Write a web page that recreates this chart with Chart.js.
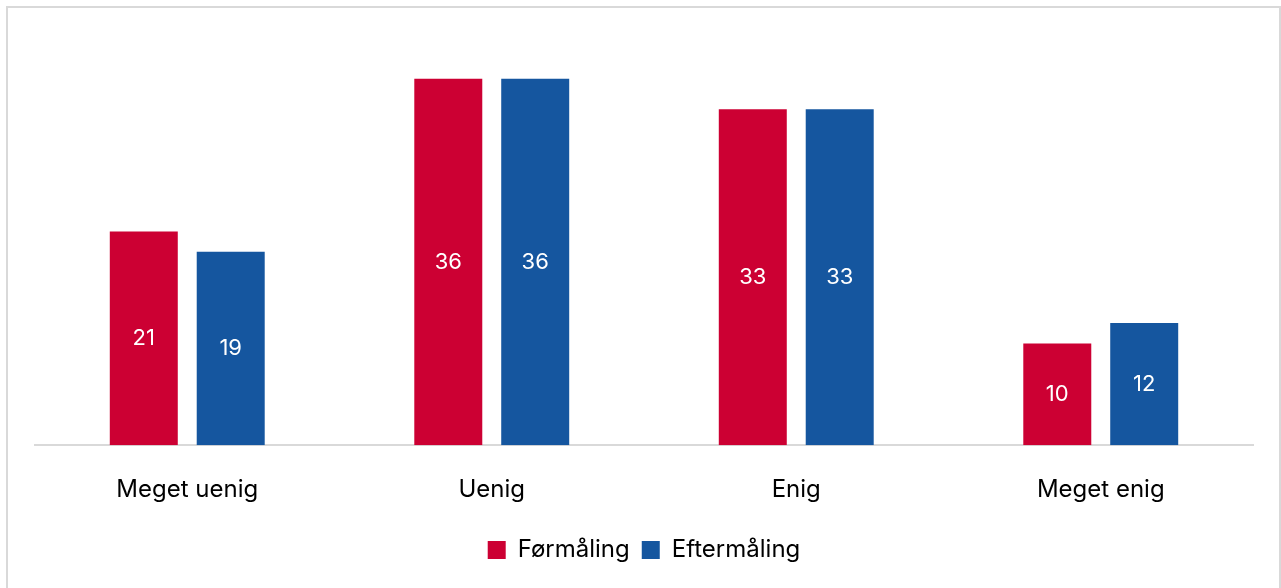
<!DOCTYPE html>
<html>
<head>
<meta charset="utf-8">
<script src="https://cdn.jsdelivr.net/npm/chart.js@4.4.1/dist/chart.umd.min.js"></script>
<style>
  html, body { margin: 0; padding: 0; background: #fff; }
  #ramme {
    position: absolute; left: 6px; top: 6px;
    width: 1271px; height: 590px;
    border: 2px solid #d9d9d9;
  }
</style>
</head>
<body>
<div id="ramme"><canvas id="graf" width="1271" height="580"></canvas></div>
<script>
// Data
var kategorier = ['Meget uenig', 'Uenig', 'Enig', 'Meget enig'];
var formaaling = [21, 36, 33, 10];
var eftermaaling = [19, 36, 33, 12];

var skrift = 'Inter';

// Tal midt i søjlerne
var vaerdiEtiketter = {
    id: 'vaerdiEtiketter',
    afterDatasetsDraw: function (chart) {
        var ctx = chart.ctx;
        ctx.save();
        ctx.fillStyle = '#ffffff';
        ctx.font = '22px "' + skrift + '"';
        ctx.textAlign = 'center';
        ctx.textBaseline = 'middle';
        chart.data.datasets.forEach(function (ds, i) {
            chart.getDatasetMeta(i).data.forEach(function (bar, j) {
                var midt = (bar.y + bar.base) / 2;
                ctx.fillText(ds.data[j], bar.x, midt);
            });
        });
        ctx.restore();
    }
};

var ctx = document.getElementById('graf').getContext('2d');
var graf = new Chart(ctx, {
    type: 'bar',
    data: {
        labels: kategorier,
        datasets: [{
            label: 'Førmåling',
            data: formaaling,
            backgroundColor: '#cc0033'
        }, {
            label: 'Eftermåling',
            data: eftermaaling,
            backgroundColor: '#15569f'
        }]
    },
    options: {
        responsive: false,
        animation: false,
        layout: { padding: { top: 30, left: 27, right: 26, bottom: 16 } },
        datasets: {
            bar: { categoryPercentage: 0.571, barPercentage: 0.782 }
        },
        scales: {
            x: {
                grid: { display: false },
                border: { color: '#d9d9d9', width: 2 },
                ticks: { color: '#000', font: { family: skrift, size: 24 }, padding: 22 }
            },
            y: { display: false, min: 0, max: 40 }
        },
        plugins: {
            legend: {
                position: 'bottom',
                labels: {
                    color: '#000',
                    font: { family: skrift, size: 24 },
                    boxWidth: 18, boxHeight: 18, padding: 12
                }
            },
            tooltip: { enabled: false }
        }
    },
    plugins: [vaerdiEtiketter]
});
</script>
</body>
</html>
